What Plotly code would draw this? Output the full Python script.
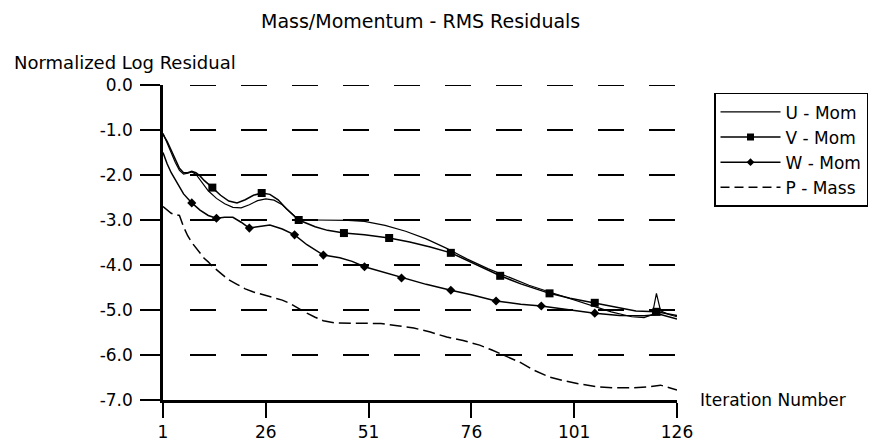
import plotly.graph_objects as go

# ---- data ----
U_iter = [1, 2, 3, 4, 5, 6, 7, 8, 9, 10, 12, 14, 16, 18, 20, 22, 24, 26, 28, 30, 32, 34, 38, 42, 46, 50,
          55, 60, 65, 70, 75, 80, 85, 90, 95, 100, 105, 110, 115, 118, 120, 121, 122, 124, 126]
U_val = [-1.07, -1.3, -1.5, -1.72, -1.9, -1.98, -1.96, -1.93, -1.98, -2.1, -2.35, -2.52, -2.64, -2.72,
         -2.73, -2.66, -2.57, -2.53, -2.56, -2.66, -2.82, -3.0, -3.0, -3.0, -3.01, -3.03, -3.12, -3.25,
         -3.42, -3.63, -3.87, -4.08, -4.27, -4.45, -4.6, -4.75, -4.9, -5.04, -5.15, -5.17, -5.1, -4.63,
         -5.02, -5.1, -5.15]

V_iter = [1, 2, 3, 4, 5, 6, 7, 8, 9, 10, 11, 13, 15, 17, 19, 21, 23, 25, 27, 29, 31, 34, 38, 41, 45, 50,
          56, 61, 66, 71, 76, 83, 88, 95, 100, 106, 112, 116, 121, 124, 126]
V_val = [-1.1, -1.25, -1.45, -1.65, -1.85, -1.95, -1.95, -1.92, -1.95, -2.02, -2.12, -2.28, -2.45, -2.58,
         -2.62, -2.55, -2.45, -2.4, -2.43, -2.55, -2.75, -3.0, -3.15, -3.23, -3.29, -3.33, -3.4, -3.49,
         -3.6, -3.73, -3.95, -4.24, -4.42, -4.63, -4.74, -4.84, -4.95, -5.02, -5.04, -5.08, -5.12]
V_mark_iter = [13, 25, 34, 45, 56, 71, 83, 95, 106, 121]

W_iter = [1, 2, 3, 4, 5, 6, 8, 10, 12, 14, 16, 18, 20, 22, 24, 27, 30, 33, 36, 40, 44, 47, 50, 55, 59,
          65, 71, 76, 82, 88, 93, 100, 106, 112, 118, 122, 126]
W_val = [-1.5, -1.75, -1.95, -2.1, -2.25, -2.42, -2.62, -2.78, -2.9, -2.96, -2.94, -2.94, -3.05, -3.18,
         -3.15, -3.11, -3.2, -3.33, -3.55, -3.78, -3.84, -3.92, -4.04, -4.17, -4.29, -4.43, -4.56, -4.66,
         -4.8, -4.87, -4.91, -5.0, -5.07, -5.12, -5.13, -5.1, -5.2]
W_mark_iter = [8, 14, 22, 33, 40, 50, 59, 71, 82, 93, 106]

P_iter = [1, 2, 3, 4, 5, 6, 7, 8, 9, 10, 11, 12, 13, 15, 17, 19, 21, 23, 25, 27, 30, 32, 34, 36, 38, 40,
          43, 47, 50, 54, 58, 62, 66, 70, 74, 78, 81, 85, 88, 91, 95, 98, 102, 107, 111, 115, 119, 122,
          124, 126]
P_val = [-2.7, -2.78, -2.85, -2.88, -2.9, -3.15, -3.35, -3.5, -3.62, -3.75, -3.85, -3.93, -4.03, -4.18,
         -4.33, -4.43, -4.53, -4.6, -4.65, -4.71, -4.78, -4.86, -4.97, -5.07, -5.16, -5.24, -5.29, -5.29,
         -5.29, -5.3, -5.35, -5.4, -5.49, -5.6, -5.68, -5.78, -5.89, -6.04, -6.17, -6.33, -6.49, -6.56,
         -6.64, -6.71, -6.73, -6.73, -6.71, -6.67, -6.73, -6.78]

x_ticks = [1, 26, 51, 76, 101, 126]
y_ticks = [0, -1, -2, -3, -4, -5, -6, -7]
y_ticktext = ["0.0", "-1.0", "-2.0", "-3.0", "-4.0", "-5.0", "-6.0", "-7.0"]

names = ["U - Mom", "V - Mom", "W - Mom", "P - Mass"]

FONT = "DejaVu Sans"
BLACK = "#000000"


def pick(iters, vals, marks):
    lookup = dict(zip(iters, vals))
    return marks, [lookup[m] for m in marks]


fig = go.Figure()

# legend entries
legend_specs = [
    dict(mode="lines", line=dict(color=BLACK, width=1.2)),
    dict(mode="lines+markers", line=dict(color=BLACK, width=1.5),
         marker=dict(symbol="square", size=7, color=BLACK)),
    dict(mode="lines+markers", line=dict(color=BLACK, width=1.5),
         marker=dict(symbol="diamond", size=6, color=BLACK)),
    dict(mode="lines", line=dict(color=BLACK, width=1.5, dash="9px,5px")),
]
for nm, spec in zip(names, legend_specs):
    fig.add_trace(go.Scatter(x=[None], y=[None], name=nm, showlegend=True, hoverinfo="skip", **spec))

# curves
fig.add_trace(go.Scatter(x=U_iter, y=U_val, mode="lines", showlegend=False,
                         line=dict(color=BLACK, width=1.2)))
fig.add_trace(go.Scatter(x=V_iter, y=V_val, mode="lines", showlegend=False,
                         line=dict(color=BLACK, width=1.5)))
vx, vy = pick(V_iter, V_val, V_mark_iter)
fig.add_trace(go.Scatter(x=vx, y=vy, mode="markers", showlegend=False,
                         marker=dict(symbol="square", size=8, color=BLACK)))
fig.add_trace(go.Scatter(x=W_iter, y=W_val, mode="lines", showlegend=False,
                         line=dict(color=BLACK, width=1.5)))
wx, wy = pick(W_iter, W_val, W_mark_iter)
fig.add_trace(go.Scatter(x=wx, y=wy, mode="markers", showlegend=False,
                         marker=dict(symbol="diamond", size=7, color=BLACK)))
fig.add_trace(go.Scatter(x=P_iter, y=P_val, mode="lines", showlegend=False,
                         line=dict(color=BLACK, width=1.5, dash="12px,5px")))

grid_dash = "0px,27px" + ",26px,25px" * 10

fig.update_layout(
    width=870, height=436,
    margin=dict(l=155, r=201, t=77, b=44, autoexpand=False),
    paper_bgcolor="white", plot_bgcolor="white",
    font=dict(family=FONT, size=17, color=BLACK),
    showlegend=True,
    legend=dict(
        x=1.072, y=0.975, xanchor="left", yanchor="top",
        bordercolor=BLACK, borderwidth=1.5, bgcolor="white",
        font=dict(family=FONT, size=17, color=BLACK),
        itemwidth=60, tracegroupgap=0,
    ),
    xaxis=dict(
        range=[1, 126], tickvals=x_ticks, ticktext=[str(v) for v in x_ticks],
        showline=True, linecolor=BLACK, linewidth=2.5,
        ticks="outside", ticklen=15, tickwidth=2, tickcolor=BLACK,
        showgrid=False, zeroline=False, ticklabelstandoff=0,
        tickfont=dict(family=FONT, size=17, color=BLACK),
    ),
    yaxis=dict(
        range=[-7, 0], tickvals=y_ticks, ticktext=y_ticktext,
        showline=True, linecolor=BLACK, linewidth=2.5,
        ticks="outside", ticklen=20, tickwidth=2, tickcolor=BLACK,
        showgrid=True, gridcolor=BLACK, gridwidth=2, griddash=grid_dash,
        zeroline=False, ticklabelstandoff=4,
        tickfont=dict(family=FONT, size=17, color=BLACK),
    ),
    shapes=[
        dict(type="line", xref="paper", x0=0, x1=1, yref="y", y0=y_ticks[0], y1=y_ticks[0],
             line=dict(color=BLACK, width=2, dash=grid_dash), layer="below"),
    ],
    annotations=[
        dict(text="Mass/Momentum - RMS Residuals", xref="paper", yref="paper",
             x=0.501, y=1.203, xanchor="center", yanchor="middle", showarrow=False,
             font=dict(family=FONT, size=19, color=BLACK)),
        dict(text="Normalized Log Residual", xref="paper", yref="paper",
             x=-0.2938, y=1.073, xanchor="left", yanchor="middle", showarrow=False,
             font=dict(family=FONT, size=18, color=BLACK)),
        dict(text="Iteration Number", xref="paper", yref="paper",
             x=1.04, y=0.0, xanchor="left", yanchor="middle", showarrow=False,
             font=dict(family=FONT, size=17, color=BLACK)),
    ],
)

fig.write_html("out.html")
